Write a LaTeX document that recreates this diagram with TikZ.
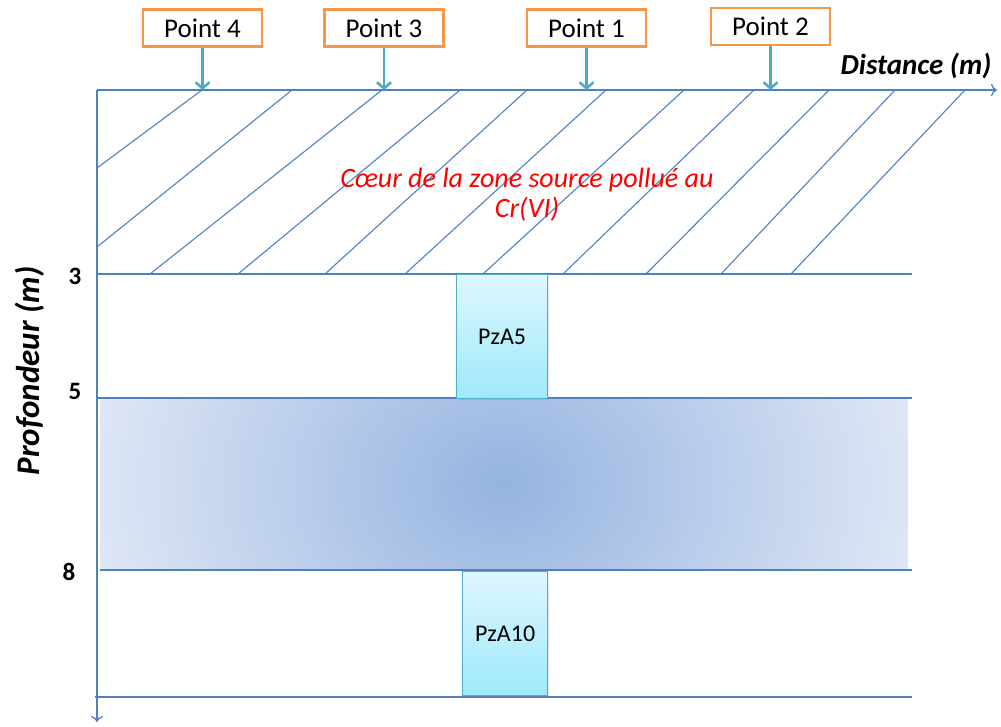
\documentclass[tikz,border=0pt]{standalone}
\usepackage{fontspec}
\setmainfont{Carlito}
\usetikzlibrary{arrows.meta,shadows}
\definecolor{axisblue}{RGB}{79,129,189}
\definecolor{ptorange}{RGB}{247,150,70}
\definecolor{arrteal}{RGB}{75,172,198}
\definecolor{pztop}{RGB}{222,247,253}
\definecolor{pzbot}{RGB}{158,233,252}
\definecolor{pzedge}{RGB}{80,175,200}
\definecolor{bandin}{RGB}{149,179,224}
\definecolor{bandout}{RGB}{229,235,247}
\pgfdeclareradialshading{bandshade}{\pgfpoint{0bp}{0bp}}{color(0bp)=(bandin); color(25bp)=(bandout); color(50bp)=(bandout)}
\begin{document}
\begin{tikzpicture}[x=1pt,y=-1pt,
  axisline/.style={draw=axisblue,line width=1.3pt},
  hatchline/.style={draw=axisblue,line width=1.1pt},
  ptbox/.style={draw=ptorange,line width=2.2pt,fill=white,minimum width=119pt,minimum height=37pt,inner sep=0pt,font=\fontsize{27}{30}\selectfont},
  ptarrow/.style={draw=arrteal,line width=2.6pt,-{Straight Barb[length=6pt,width=14pt]}},
  pzbox/.style={draw=pzedge,line width=1.2pt,top color=pztop,bottom color=pzbot,inner sep=0pt,anchor=north west,font=\fontsize{24}{26}\selectfont,
    drop shadow={opacity=0.18,shadow xshift=1.5pt,shadow yshift=-1.5pt}},
  depthlbl/.style={font=\bfseries\fontsize{25}{28}\selectfont},
  axistitle/.style={font=\bfseries\itshape\fontsize{29}{32}\selectfont}
]
\useasboundingbox (0,0) rectangle (1001,727);
% band
\begin{scope}
  \clip (100,398) rectangle (908,570);
  \shade[shading=bandshade] (503,484) ellipse [x radius=450pt, y radius=360pt];
\end{scope}
% axes
\coordinate (o) at (97,90);
\coordinate (xend) at (997,90);
\coordinate (yend) at (97,722);
\draw[axisline,-{To[length=6pt,width=12pt]}] (o) -- (xend);
\draw[axisline,-{To[length=6pt,width=12pt]}] (o) -- (yend);
% horizontal layer lines
\draw[axisline] (97,274) -- (912,274);
\draw[axisline] (97,398) -- (912,398);
\draw[axisline] (100,570) -- (912,570);
\draw[axisline] (95,697) -- (912,697);
% hatching
\foreach \a/\b/\c/\d in {202/90/97/168, 292/90/97/247, 382/90/150/274, 460/90/238/274,
  527/90/325/274, 606/90/405/274, 684/90/483/274, 754/90/563/274, 829/90/646/274,
  895/90/721/274, 965/90/791/274}
  \draw[hatchline] (\a,\b) -- (\c,\d);
% piezometers
\node[pzbox,minimum width=91pt,minimum height=124pt] (pz5) at (456,274) {PzA5};
\node[pzbox,minimum width=85pt,minimum height=124pt] (pz10) at (462,571) {PzA10};
% texts
\node[text=red,font=\itshape\fontsize{28}{30}\selectfont,align=center] (zone) at (527,195)
  {Cœur de la zone source pollué au\\Cr(VI)};
\node[axistitle] (dist) at (916,66) {Distance (m)};
\node[axistitle,rotate=90,font=\bfseries\itshape\fontsize{33}{36}\selectfont] (prof) at (30,371) {Profondeur (m)};
\node[depthlbl] (d3) at (75,276) {3};
\node[depthlbl] (d5) at (75,391) {5};
\node[depthlbl] (d8) at (69,572) {8};
% points
\node[ptbox] (p4) at (202.5,28) {Point 4};
\node[ptbox] (p3) at (384,28) {Point 3};
\node[ptbox] (p1) at (586.5,28) {Point 1};
\node[ptbox] (p2) at (770.5,26.5) {Point 2};
\foreach \p in {p4,p3,p1,p2}
  \draw[ptarrow] (\p.south) -- (\p.south |- o);
\end{tikzpicture}
\end{document}
